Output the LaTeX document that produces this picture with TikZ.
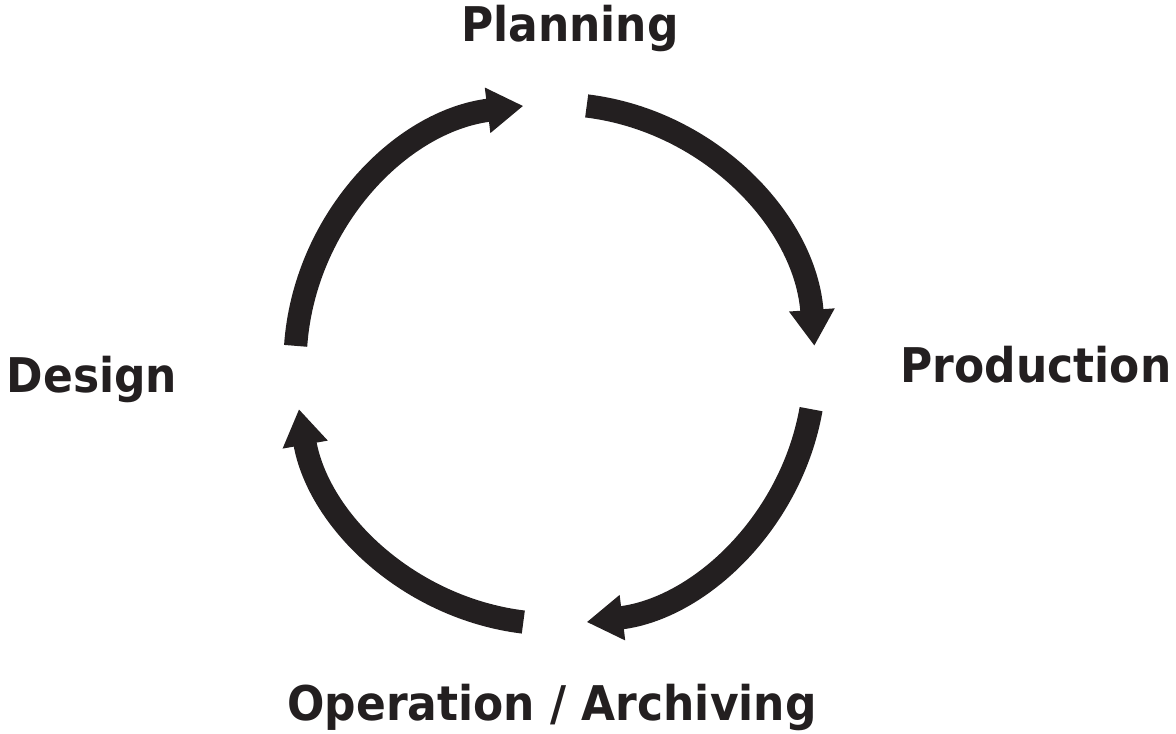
\documentclass[tikz,border=0pt]{standalone}
\usepackage{fontspec}
\setmainfont{DejaVu Sans}[FakeStretch=0.92]
\usetikzlibrary{arrows.meta}
\definecolor{ink}{HTML}{231F20}

\begin{document}
\begin{tikzpicture}[x=0.025cm, y=0.025cm,
	phase/.style={font=\bfseries\fontsize{34}{40}\selectfont, text=ink, anchor=base, inner sep=0pt},
	cycarrow/.style={line width=16.5pt, draw=ink, -{Triangle[length=0.9cm, width=1.08cm]}}]
	\useasboundingbox (0,0) rectangle (1176,734);
	\coordinate (c) at (555,370);

	\node [phase] (planning) at (570,692) {Planning};
	\node [phase] (production) at (1036,351) {Production};
	\node [phase] (operation) at (552,13) {Operation / Archiving};
	\node [phase] (design) at (92,341) {Design};

	\path (c) ++(176:260) coordinate (s1);
	\path (c) ++(83:260) coordinate (s2);
	\path (c) ++(-10:260) coordinate (s3);
	\path (c) ++(-97:260) coordinate (s4);

	\draw [cycarrow] (s1) arc[start angle=176, end angle=97, radius=260];
	\draw [cycarrow] (s2) arc[start angle=83, end angle=4, radius=260];
	\draw [cycarrow] (s3) arc[start angle=-10, end angle=-83, radius=260];
	\draw [cycarrow] (s4) arc[start angle=-97, end angle=-170, radius=260];
\end{tikzpicture}
\end{document}
